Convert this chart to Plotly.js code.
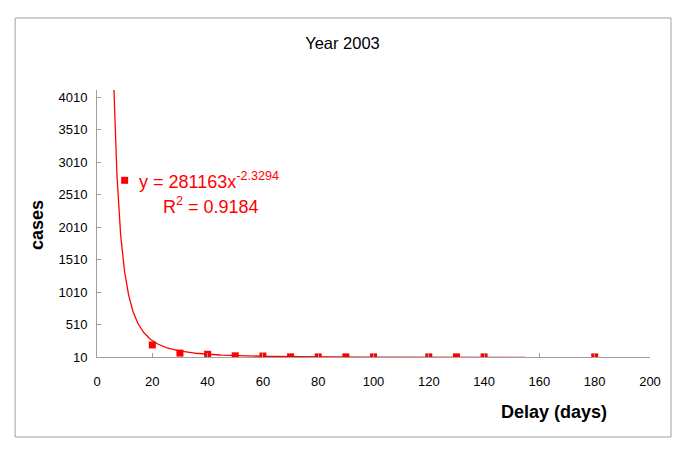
<!DOCTYPE html>
<html><head><meta charset="utf-8">
<script src="https://cdn.plot.ly/plotly-3.0.1.min.js"></script>
<style>html,body{margin:0;padding:0;background:#fff}</style>
</head><body>
<div id="chart" style="width:685px;height:450px"></div>
<script>
// Observed data
const delayDays = [10, 20, 30, 40, 50, 60, 70, 80, 90, 100, 120, 130, 140, 180];
const cases = [2730, 195, 70, 52, 28, 25, 12, 12, 12, 12, 12, 12, 12, 12];
// Power trendline coefficients shown on the chart
const trendCoef = 281163;
const trendExp = -2.3294;
const trendXStart = 6.1;
const trendXEnd = 155;
const xTicks = [0, 20, 40, 60, 80, 100, 120, 140, 160, 180, 200];
const yTicks = [10, 510, 1010, 1510, 2010, 2510, 3010, 3510, 4010];

const tx = [], ty = [];
for (let i = 0; i <= 300; i++) {
  const x = trendXStart * Math.pow(trendXEnd / trendXStart, i / 300);
  tx.push(x); ty.push(trendCoef * Math.pow(x, trendExp));
}

const font = 'Liberation Sans, Arial, sans-serif';
const data = [
  {x: tx, y: ty, type: 'scatter', mode: 'lines', line: {color: '#ff0000', width: 1.3}, hoverinfo: 'skip', cliponaxis: true},
  {x: delayDays, y: cases, type: 'scatter', mode: 'markers', marker: {symbol: 'square', size: 7, color: '#ff0000'}}
];
const layout = {
  width: 685, height: 450, showlegend: false,
  paper_bgcolor: '#fff', plot_bgcolor: '#fff',
  margin: {l: 97, r: 35, t: 90, b: 93},
  title: {text: 'Year 2003', font: {family: font, size: 16.5, color: '#000'}, x: 0.5, xanchor: 'center', y: 0.905, yanchor: 'middle'},
  xaxis: {range: [0, 200], tickvals: xTicks, ticktext: xTicks.map(String), showgrid: false, zeroline: false,
    showline: true, linecolor: '#a0a0a0', linewidth: 1, ticks: 'inside', ticklen: 4, tickcolor: '#a0a0a0',
    ticklabelstandoff: 12,
    tickfont: {family: font, size: 13, color: '#000'}, fixedrange: true},
  yaxis: {range: [10, 4120], tickvals: yTicks, ticktext: yTicks.map(String), showgrid: false, zeroline: false,
    showline: true, linecolor: '#a0a0a0', linewidth: 1, ticks: 'inside', ticklen: 4, tickcolor: '#a0a0a0',
    ticklabelstandoff: 6,
    tickfont: {family: font, size: 13, color: '#000'}, fixedrange: true},
  shapes: [{type: 'rect', xref: 'paper', yref: 'paper', x0: -0.148, x1: 1.038, y0: -0.2996, y1: 1.2697,
    line: {color: '#a0a0a0', width: 1}, fillcolor: 'rgba(0,0,0,0)'}],
  annotations: [
    {xref: 'paper', yref: 'paper', x: -0.108, y: 0.495, text: '<b>cases</b>', textangle: -90, showarrow: false,
      font: {family: font, size: 18, color: '#000'}, xanchor: 'center', yanchor: 'middle'},
    {xref: 'paper', yref: 'paper', x: 0.925, y: -0.205, text: '<b>Delay (days)</b>', showarrow: false,
      font: {family: font, size: 18, color: '#000'}, xanchor: 'right', yanchor: 'middle'},
    {xref: 'paper', yref: 'paper', x: 0.073, y: 0.66, text: 'y = 281163x<sup>-2.3294</sup>', showarrow: false,
      font: {family: font, size: 18, color: '#ff0000'}, xanchor: 'left', yanchor: 'middle'},
    {xref: 'paper', yref: 'paper', x: 0.115, y: 0.566, text: 'R<sup>2</sup> = 0.9184', showarrow: false,
      font: {family: font, size: 18, color: '#ff0000'}, xanchor: 'left', yanchor: 'middle'}
  ]
};
Plotly.newPlot('chart', data, layout, {displayModeBar: false, staticPlot: true});
</script>
</body></html>
